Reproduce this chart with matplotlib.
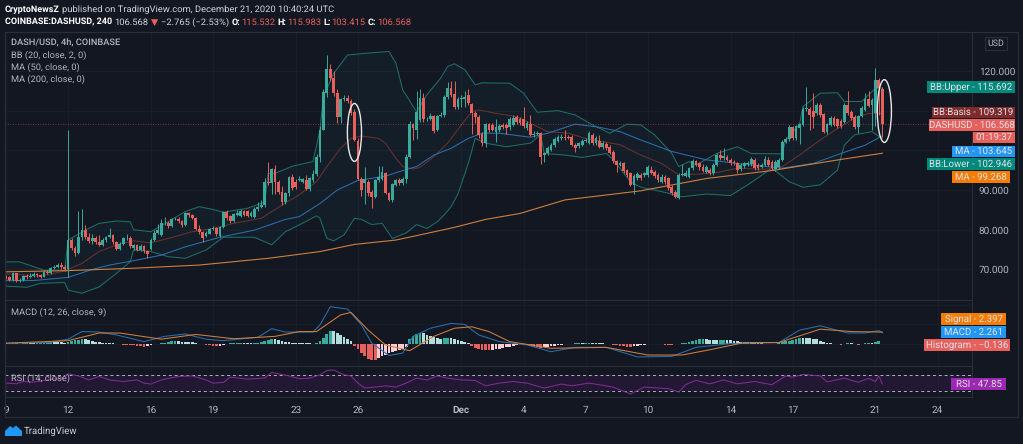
import matplotlib
matplotlib.use('Agg')
import matplotlib.pyplot as plt
import numpy as np
from matplotlib.patches import Ellipse, Rectangle, Polygon

W, H = 1023, 444
BG = '#131722'
GRID = '#1a1e2a'
BORDER = '#2a2e39'
TXT = '#b2b5be'
UP = '#38ab9c'
DOWN = '#e8605c'
plt.rcParams['font.family'] = ['Roboto', 'DejaVu Sans']
plt.rcParams['text.hinting'] = 'no_hinting'

opens = [68.2,68.0,67.3,69.0,67.2,67.4,68.3,68.0,68.4,68.8,
         68.5,68.2,69.4,69.1,70.3,70.6,71.1,70.6,70.0,77.4,
         75.3,74.2,78.1,79.9,78.1,77.1,78.0,77.0,76.2,77.5,
         78.2,78.6,76.8,75.2,76.5,77.8,78.0,75.4,76.1,75.0,
         75.9,74.6,75.1,77.4,79.3,78.7,81.6,81.8,80.9,82.6,
         82.8,82.1,81.2,84.1,83.7,82.9,80.3,79.4,78.5,79.0,
         80.2,80.5,78.4,80.8,84.5,83.5,82.3,83.8,83.5,84.6,
         84.6,83.5,83.3,85.1,85.8,86.3,92.1,91.7,95.2,92.1,
         89.6,87.0,89.2,93.2,92.1,92.5,92.1,92.5,90.2,92.6,
         94.0,98.2,105.1,114.4,120.4,118.2,114.4,108.5,112.9,113.3,
         112.3,109.7,102.4,92.9,91.7,91.9,89.6,88.3,92.4,92.9,
         94.4,89.2,87.5,91.3,92.6,91.7,92.9,98.4,106.6,105.1,
         107.6,113.3,107.8,108.0,108.7,105.1,108.7,108.9,113.5,115.8,
         114.1,111.0,112.8,113.0,114.0,111.7,109.3,108.5,104.1,101.8,
         106.6,106.4,104.7,105.1,106.4,106.4,105.8,106.4,108.5,107.8,
         108.0,105.5,106.6,103.9,104.1,104.3,98.8,99.2,100.1,101.3,
         102.4,103.2,103.3,103.3,103.4,101.4,101.0,101.4,102.3,101.8,
         103.9,101.8,102.4,100.9,101.7,100.9,99.7,97.2,96.4,96.7,
         95.0,94.2,91.3,93.0,93.8,93.8,93.8,95.0,94.6,93.8,
         92.1,93.4,93.0,90.8,89.6,88.0,93.9,93.6,93.4,95.5,
         97.2,96.7,95.9,94.6,95.0,94.2,96.3,98.8,98.0,98.4,
         97.6,97.1,96.7,95.2,96.0,96.5,96.5,97.6,96.3,95.9,
         96.3,97.6,97.1,95.2,95.7,97.6,102.2,102.8,105.8,103.0,
         105.5,106.4,110.3,110.3,110.0,109.3,111.4,109.1,104.7,106.4,
         108.1,107.8,107.5,107.2,111.4,109.7,108.5,105.8,108.7,110.2,
         112.9,111.4,109.3,117.7,115.532]
closes = [68.0,67.3,69.0,67.2,67.4,68.3,68.0,68.4,68.8,68.5,
          68.2,69.4,69.1,70.3,70.6,71.1,70.6,70.0,77.4,75.3,
          74.2,78.1,79.9,78.1,77.1,78.0,77.0,76.2,77.5,78.2,
          78.6,76.8,75.2,76.5,77.8,78.0,75.8,76.1,75.0,75.9,
          74.6,74.0,77.4,79.3,80.0,81.6,81.8,80.9,82.6,82.8,
          82.1,81.2,84.1,83.7,82.9,80.3,79.4,78.0,79.1,80.2,
          80.5,78.9,80.6,84.5,82.9,82.3,84.0,84.3,84.6,83.8,
          83.5,84.3,85.1,85.8,86.3,92.1,91.7,95.2,92.1,89.6,
          87.1,89.2,93.2,90.4,90.7,92.9,92.7,90.2,93.0,94.0,
          98.2,105.1,114.8,120.4,118.2,114.4,108.5,112.9,113.1,112.3,
          109.3,102.6,92.9,90.0,92.9,89.2,88.3,92.4,93.4,94.6,
          89.2,87.5,91.4,92.4,91.7,92.9,98.4,106.6,105.5,109.7,
          113.3,107.8,108.0,108.7,104.9,108.7,108.9,113.5,115.8,114.0,
          111.0,112.9,113.1,113.5,111.9,109.3,108.5,103.9,101.8,106.6,
          105.1,105.2,105.8,106.1,105.8,105.5,107.8,108.1,107.2,107.0,
          106.0,107.0,103.9,104.1,104.3,98.4,99.2,100.5,101.3,102.8,
          103.3,103.4,103.0,103.2,101.4,100.7,101.8,102.4,102.5,104.3,
          101.8,103.0,100.9,101.9,100.7,99.4,97.2,96.3,96.7,94.9,
          93.8,91.3,93.5,94.0,93.0,94.2,95.9,94.4,93.5,92.5,
          93.4,92.1,90.4,89.2,88.3,93.8,94.1,94.2,95.5,97.4,
          96.3,95.7,94.9,95.9,94.2,96.3,98.8,98.0,98.6,97.6,
          96.7,96.7,95.0,96.3,96.7,96.9,97.7,95.5,95.5,96.3,
          97.7,96.3,95.5,97.1,97.6,102.2,102.8,105.8,103.0,106.0,
          106.6,110.3,110.6,108.9,108.5,111.4,108.9,104.7,106.6,108.1,
          106.4,106.0,106.0,111.4,109.3,108.1,105.8,108.7,110.6,112.9,
          111.2,112.7,117.7,115.6,106.568]
highs = [68.6,68.4,69.4,69.2,67.9,68.6,68.9,69.2,69.4,69.1,
         68.9,69.8,69.9,70.6,71.0,71.6,71.9,71.0,105.1,78.0,
         75.8,84.6,85.1,81.3,79.3,79.0,78.4,78.7,78.0,78.5,
         80.5,79.0,77.2,76.9,78.2,78.8,78.4,76.5,76.5,76.3,
         76.2,75.0,77.8,79.9,81.4,82.8,83.2,82.1,83.0,83.3,
         83.1,82.4,84.4,84.5,84.0,83.2,81.2,79.7,79.6,80.5,
         81.0,80.8,81.0,84.8,85.0,83.8,84.3,84.9,85.2,85.0,
         85.0,84.8,85.6,87.0,87.4,93.0,97.0,95.6,96.2,92.5,
         91.0,89.6,93.6,94.0,92.7,93.5,93.0,93.7,93.4,95.0,
         99.0,106.0,115.5,124.0,121.8,120.0,115.5,113.2,114.0,114.0,
         113.0,110.5,103.0,93.4,95.9,92.5,90.0,92.8,96.0,96.0,
         94.6,89.5,91.8,92.8,93.0,93.4,99.0,107.5,107.0,115.0,
         115.5,114.5,108.3,109.5,109.0,109.0,109.7,114.0,117.2,117.5,
         117.5,113.5,114.0,115.0,115.5,112.0,110.0,108.9,104.5,107.0,
         107.0,107.0,108.0,106.6,106.9,107.0,108.5,109.0,109.0,108.3,
         110.8,107.5,109.0,104.8,104.8,104.6,99.7,101.0,101.8,103.3,
         103.9,104.0,105.0,103.8,103.8,101.8,102.2,102.9,103.0,104.8,
         104.3,103.5,103.8,102.3,102.2,101.3,100.0,97.6,97.2,97.1,
         95.4,94.6,94.0,94.5,94.3,94.6,96.3,96.0,95.0,94.2,
         94.0,93.8,93.4,91.2,90.0,94.2,96.5,95.0,95.9,97.9,
         97.6,97.1,96.5,96.3,95.5,96.7,99.3,100.0,100.5,98.8,
         98.0,97.6,97.0,96.7,97.1,97.3,98.2,98.0,96.7,96.8,
         98.6,98.4,97.6,97.6,98.0,102.7,103.3,106.3,106.2,106.4,
         107.0,110.8,116.0,110.8,114.5,111.9,111.9,109.5,107.0,108.6,
         108.6,108.2,107.9,111.9,115.0,110.2,109.0,109.0,111.1,114.5,
         115.0,113.2,120.7,118.1,115.983]
lows = [67.5,67.0,67.0,66.9,66.8,67.2,67.7,67.8,68.2,68.1,
        67.9,68.0,68.8,68.9,70.0,70.3,70.2,69.7,68.0,75.0,
        73.5,73.9,77.5,77.6,76.7,76.5,76.4,75.8,76.0,77.0,
        77.9,76.3,74.8,74.9,76.1,77.4,75.4,75.0,74.7,74.6,
        74.2,73.0,74.8,77.1,79.0,78.4,81.3,80.5,80.6,82.4,
        81.8,80.6,80.9,83.2,82.6,80.0,79.0,77.0,78.2,78.8,
        79.9,78.5,78.1,80.4,82.4,81.7,82.0,83.5,83.1,83.4,
        83.2,83.2,83.0,84.8,85.5,85.8,91.3,88.9,89.1,88.9,
        86.2,86.5,88.6,90.0,90.3,92.2,91.8,89.9,89.8,92.0,
        93.5,97.0,105.0,113.5,117.5,113.8,107.0,107.0,112.5,111.8,
        109.0,102.3,92.6,88.5,86.5,88.5,85.5,88.0,92.0,92.5,
        88.9,87.2,87.0,91.0,91.3,91.3,91.8,98.0,102.5,102.8,
        107.2,107.2,107.5,107.6,104.4,104.8,108.3,108.5,113.0,113.5,
        110.5,110.5,110.8,111.0,111.5,104.0,107.0,103.0,101.0,100.8,
        104.6,104.8,102.0,104.7,105.4,104.0,105.2,106.0,106.7,106.5,
        105.5,105.0,103.5,103.4,103.8,96.6,97.0,98.8,99.8,100.8,
        102.0,102.5,102.6,102.8,101.0,99.5,100.7,101.1,102.0,101.5,
        101.4,101.4,100.5,100.4,100.2,99.0,96.8,94.5,96.0,94.3,
        93.2,90.9,89.0,92.6,92.6,93.4,93.4,94.0,93.0,92.0,
        91.8,91.6,90.0,88.8,88.0,87.7,93.5,93.2,93.1,95.1,
        96.0,95.0,94.5,94.2,93.8,93.8,96.0,97.6,97.6,97.2,
        96.3,96.3,94.2,94.8,95.6,96.1,96.1,95.0,95.1,95.5,
        96.0,96.0,95.0,94.8,95.3,97.2,101.8,102.4,102.6,102.6,
        101.6,106.0,110.0,105.0,105.5,108.9,108.5,104.3,104.0,106.0,
        106.0,105.6,105.6,106.8,108.9,107.7,105.4,104.3,108.3,109.9,
        110.8,105.0,106.0,109.0,103.415]

# line vertices (candle index, value)
bb_up_x = [0,4,8,11,17,18,23,27,32,36,37,42,47,52,56,60,63,70,75,76,78,83,89,91,92,95,99,105,111,113,115,119,122,126,128,130,133,136,138,146,150,154,160,165,170,175,180,184,188,193,195,198,200,206,212,216,225,226,230,231,236,241,243,248,252,254]
bb_up = [71.9,71.9,70.7,69.8,69.8,77.4,79.9,81.6,82.2,82.0,80.0,79.5,82.0,84.6,85.8,85.1,84.4,85.4,87.0,94.2,94.2,96.0,97.2,105.1,113.5,119.4,124.0,124.5,124.9,122.0,115.2,109.7,114.0,118.2,121.1,121.8,120.3,116.5,117.0,116.9,114.4,109.6,110.0,108.9,106.4,104.3,106.6,106.4,103.9,99.2,95.9,97.2,96.3,99.2,100.9,99.2,99.1,102.6,106.6,111.0,114.4,114.5,112.3,112.3,115.6,115.692]
bb_lo_x = [0,6,10,17,18,22,27,32,36,37,42,47,52,58,63,72,77,81,85,90,91,93,95,98,101,103,106,109,112,116,119,122,125,127,129,131,134,136,139,145,152,155,156,162,167,174,176,181,184,190,196,203,210,215,222,227,231,236,241,243,246,251,254]
bb_lo = [65.8,65.5,66.5,66.7,64.8,64.0,65.6,69.0,71.9,74.9,74.5,73.2,72.8,74.9,78.1,78.1,76.2,79.5,81.2,83.5,82.9,77.8,77.2,78.7,82.9,82.6,81.3,81.6,77.8,79.2,81.3,80.3,82.0,83.7,85.8,89.0,96.7,103.0,101.8,100.9,101.8,103.9,99.2,98.8,98.2,99.2,97.6,92.1,90.7,89.6,88.3,89.0,88.6,91.3,95.5,92.1,90.7,91.3,95.0,101.3,103.9,104.7,102.946]
bb_mid_x = [0,10,17,18,22,27,32,37,42,47,54,60,66,74,80,85,90,93,97,100,103,108,110,113,115,118,120,124,128,132,135,137,142,148,153,157,163,168,173,178,184,190,195,205,212,220,225,230,236,241,246,250,254]
bb_mid = [68.9,68.3,69.6,70.0,71.5,74.5,76.2,77.2,76.7,77.8,79.5,80.3,81.6,82.9,86.2,88.8,92.1,95.9,100.5,103.0,103.6,103.0,101.8,98.0,95.9,95.3,95.7,98.4,101.8,106.4,109.7,110.2,109.3,108.5,106.4,104.7,104.3,103.0,102.2,101.4,98.8,96.7,93.8,94.2,95.5,95.2,95.9,98.8,102.6,105.5,108.1,109.3,109.319]
ma50_x = [0,8,18,25,30,37,45,52,62,72,81,85,91,96,102,110,115,119,124,129,134,138,143,152,157,165,172,178,184,193,203,213,225,234,242,249,254]
ma50 = [67.2,67.2,68.0,70.0,71.1,72.2,73.6,75.7,78.1,79.9,82.6,83.3,86.6,90.0,92.4,93.5,94.9,95.9,98.8,100.5,103.0,104.3,104.3,103.3,104.3,106.6,105.8,104.7,102.6,99.7,97.6,96.6,95.5,96.7,99.2,101.3,103.645]
ma200_x = [0,18,37,56,76,91,101,113,120,130,139,149,162,184,203,222,242,254]
ma200 = [69.4,69.7,70.3,71.1,72.8,74.5,76.3,77.4,78.7,80.6,82.6,84.1,87.5,89.8,92.9,94.9,97.7,99.268]

macd_x = [0,12,18,22,27,32,40,46,52,58,63,73,77,81,89,91,94,99,103,106,111,115,118,123,129,133,137,143,151,158,165,174,183,193,200,210,224,230,236,244,249,253,254]
macd = [0.07,0.2,0.9,2.5,2.4,1.8,0.4,1.5,2.0,0.9,0.6,1.3,3.1,2.4,2.4,3.9,7.7,7.2,3.9,0.1,-2.5,-2.0,1.5,3.2,4.2,4.0,1.8,0.4,-0.3,-1.7,-0.8,-0.8,-2.8,-2.7,-0.8,0.0,0.2,2.8,3.7,2.2,2.2,2.7,2.261]
signal_x = [0,18,27,33,45,55,66,78,85,90,97,100,105,110,117,124,130,135,140,146,158,174,186,196,204,214,224,236,245,254]
signal = [0.07,0.6,2.2,2.2,0.9,1.9,1.0,1.5,2.5,2.5,6.0,6.5,2.8,-0.3,-1.5,1.5,3.2,3.5,2.5,0.4,-1.0,-0.8,-2.4,-2.4,-1.3,0.2,0.2,3.0,2.5,2.397]
hist = [.05,-.05,.03,.05,-.02,.03,.05,.03,.02,.05,
        .08,.12,.2,.25,.25,.25,.25,.2,.3,.5,
        .7,.8,.9,.85,.7,.55,.4,.3,.2,.15,
        .1,.1,-.1,-.2,-.25,-.3,-.35,-.4,-.45,-.55,
        -.65,-.6,-.4,-.2,-.1,.05,.2,.35,.5,.6,
        .55,.4,.35,.3,.25,.1,-.1,-.2,-.3,-.35,
        -.45,-.5,-.45,-.3,-.1,.03,.05,.1,.12,.12,
        .1,.1,.15,.2,.4,.6,.8,1.0,.95,.8,
        .5,.3,.25,.2,.15,.15,.12,.1,.05,-.1,
        .1,.6,1.2,2.0,2.7,2.7,2.2,1.7,1.3,1.0,
        .5,-.6,-1.2,-1.9,-2.7,-3.2,-3.4,-3.4,-3.0,-2.6,
        -2.3,-2.0,-1.8,-1.6,-1.4,-1.1,-.7,.9,1.5,2.0,
        2.2,2.1,1.8,1.5,1.3,1.1,1.0,1.1,1.2,1.1,
        .9,.7,.6,.4,.2,-.5,-.9,-1.2,-1.4,-1.4,
        -1.4,-1.3,-1.2,-1.1,-1,-.8,-.7,-.6,-.4,-.2,
        -.1,-.3,-.6,-.7,-.8,-.9,-.8,-.7,-.6,-.5,
        -.4,-.3,-.15,-.1,-.05,.03,.05,.03,.1,.15,
        .15,.1,.1,.05,-.1,-.2,-.3,-.4,-.5,-.6,
        -.7,-.8,-.6,-.5,-.4,-.3,-.2,-.1,-.1,-.15,
        -.2,-.25,-.3,-.3,-.2,-.1,.1,.2,.35,.5,
        .7,.9,1.0,.9,.8,.7,.65,.7,.8,.8,
        .7,.6,.5,.4,.3,.25,.2,.1,.1,.1,
        -.05,-.1,-.15,-.1,.05,.3,.5,.6,.8,1,
        1.2,1.2,1.2,1.1,1,.9,.6,.4,.05,.02,
        -.1,-.2,-.3,-.2,.05,.03,-.2,-.4,-.2,.05,
        .1,.05,.4,.5,-.136]

rsi_x = [0,3,5,8,12,16,18,21,24,27,30,34,38,40,42,45,50,54,58,60,63,65,70,75,77,79,82,85,88,91,93,95,98,100,102,104,107,110,113,116,119,122,125,128,132,136,139,143,147,151,156,161,164,169,176,181,185,192,195,197,200,204,208,212,217,222,226,228,231,236,238,243,247,250,252,253,254]
rsi = [50,48.3,54,52.5,58,61.7,73.3,68,58,66.7,58,54,58,50,47.5,58,66.7,68,58,50,51.7,65,60,62.5,76.7,73.3,68,61,62.5,70.8,81.7,83,70.8,68,50,37.5,40,43,40,50,62.5,58,68,62.5,58,56.7,43,50,54,50,37.5,47.5,43.3,50,40,22.5,40,36,27.5,46,57,48,58,48,54,46,68,65,72,68,53,62.5,52,62,54,68,47.85]

price_ticks = [70, 80, 90, 100, 110, 120]
price_labels = ['70.000', '80.000', '90.000', '', '', '120.000']
day_ticks = [0, 18, 42, 60, 84, 102, 132, 150, 168, 186, 210, 228, 252, 270]
day_labels = ['9', '12', '16', '19', '23', '26', 'Dec', '4', '7', '10', '14', '17', '21', '24']


def fx(px):
    return px / W


def fy(py):
    return 1 - py / H


def make_pane(top, bottom):
    ax = fig.add_axes([fx(5), fy(bottom), (972 - 5) / W, (bottom - top) / H])
    ax.set_facecolor(BG)
    ax.set_xlim(-0.29, 280)
    ax.set_xticks(day_ticks)
    ax.tick_params(length=0, labelbottom=False, labelleft=False)
    ax.grid(color=GRID, lw=0.7)
    ax.set_axisbelow(True)
    for s in ax.spines.values():
        s.set_color(BORDER)
        s.set_linewidth(0.8)
    return ax


def value_box(x0, x1, y0, y1, label, color):
    fig.add_artist(Rectangle((fx(x0), fy(y1)), (x1 - x0) / W, (y1 - y0) / H,
                             transform=fig.transFigure, fc=color, ec='none', zorder=5))
    fig.text(fx((x0 + x1) / 2), fy((y0 + y1) / 2), label, color='#dfe1e8', fontsize=6.9,
             ha='center', va='center', zorder=6)


def text_row(x, y, parts):
    rend = fig.canvas.get_renderer()
    for s, color, weight in parts:
        size = 6.5 if weight == 'bold' else 6.75
        t = fig.text(fx(x), fy(y), s, color=color, fontsize=size, fontweight=weight, va='center')
        x = t.get_window_extent(rend).x1 + (0.5 if s.endswith(':') else 2.5)


fig = plt.figure(figsize=(W / 100, H / 100), dpi=100, facecolor=BG)
x = np.arange(len(closes))
o, c = np.array(opens), np.array(closes)
colors = [UP if b >= a else DOWN for a, b in zip(opens, closes)]

# price pane
ax = make_pane(32, 300)
ax.set_yticks(price_ticks)
ax.set_ylim(62.3, 129.8)
ax.fill(bb_up_x + bb_lo_x[::-1], bb_up + bb_lo[::-1], color=UP, alpha=0.05, lw=0)
ax.plot(bb_up_x, bb_up, color='#1d6f68', lw=0.75)
ax.plot(bb_lo_x, bb_lo, color='#1d6f68', lw=0.75)
ax.plot(bb_mid_x, bb_mid, color='#6b302f', lw=0.75)
ax.plot(ma50_x, ma50, color='#2a6fae', lw=0.75)
ax.plot(ma200_x, ma200, color='#cf7f3e', lw=0.8)
ax.vlines(x, lows, highs, colors=colors, lw=0.7, zorder=3)
ax.bar(x, np.abs(c - o), bottom=np.minimum(o, c), width=0.8, color=colors, zorder=4, lw=0)
ax.axhline(closes[-1], color=DOWN, lw=0.6, ls=(0, (1, 2)), alpha=0.6)
ax.add_patch(Ellipse((101, 104.5), 4.1, 14.6, fc='none', ec='#e8e8e8', lw=1, zorder=6))
ax.add_patch(Ellipse((254.6, 109.9), 4.1, 15.8, fc='none', ec='#e8e8e8', lw=1, zorder=6))
ax.yaxis.tick_right()
ax.tick_params(axis='y', labelright=True, labelcolor=TXT, labelsize=7.2, pad=5)
ax.set_yticklabels(price_labels)

# MACD pane
ax2 = make_pane(300, 366)
ax2.set_yticks([-4, 0, 4, 8])
ax2.set_ylim(-4.7, 9.1)
hist_colors = []
for i, v in enumerate(hist):
    growing = i > 0 and v > hist[i - 1]
    if v >= 0:
        hist_colors.append(UP if growing else '#b2dfdb')
    else:
        hist_colors.append('#ffcdd2' if growing else DOWN)
ax2.bar(x, hist, width=0.8, color=hist_colors, zorder=3, lw=0)
ax2.plot(macd_x, macd, color='#2a6fae', lw=0.75, zorder=4)
ax2.plot(signal_x, signal, color='#cf7f3e', lw=0.75, zorder=4)

# RSI pane
ax3 = make_pane(366, 397)
ax3.set_ylim(15, 93)
ax3.set_yticks([])
ax3.axhspan(30, 70, color='#9c27b0', alpha=0.12, lw=0)
ax3.axhline(70, color='#b9aec4', lw=0.7, ls=(0, (3, 3)))
ax3.axhline(30, color='#b9aec4', lw=0.7, ls=(0, (3, 3)))
ax3.plot(rsi_x, rsi, color='#7e2d94', lw=0.75)
ax3.set_xticks(day_ticks)
ax3.set_xticklabels(day_labels)
ax3.tick_params(axis='x', labelbottom=True, labelcolor=TXT, labelsize=7.2, pad=6)
ax3.get_xticklabels()[6].set_fontweight('bold')

# outer frame of the chart and time axis
fig.add_artist(Rectangle((fx(5), fy(417)), 1013 / W, 385 / H, transform=fig.transFigure,
                         fc='none', ec=BORDER, lw=0.8))

# pane legends
legend_rows = [(43, 'DASH/USD, 4h, COINBASE', 'medium'), (55, 'BB (20, close, 2, 0)', 'normal'),
               (67, 'MA (50, close, 0)', 'normal'), (79, 'MA (200, close, 0)', 'normal'),
               (312, 'MACD (12, 26, close, 9)', 'normal'), (378, 'RSI (14, close)', 'normal')]
for py, s, weight in legend_rows:
    fig.text(fx(11), fy(py), s, color=TXT, fontsize=6.7, fontweight=weight, va='center')

# header
fig.canvas.draw()
text_row(5, 9.5, [('CryptoNewsZ', 'white', 'bold'),
                  ('published on TradingView.com, December 21, 2020 10:40:24 UTC', '#d1d4dc', 'normal')])
text_row(5, 22, [('COINBASE:DASHUSD, 240', 'white', 'bold'), ('106.568', '#d1d4dc', 'normal'),
                 ('▼', DOWN, 'normal'), ('−2.765 (−2.53%)', '#d1d4dc', 'normal'),
                 ('O:', 'white', 'bold'), ('115.532', DOWN, 'normal'),
                 ('H:', 'white', 'bold'), ('115.983', DOWN, 'normal'),
                 ('L:', 'white', 'bold'), ('103.415', DOWN, 'normal'),
                 ('C:', 'white', 'bold'), ('106.568', DOWN, 'normal')])

# USD button
fig.add_artist(Rectangle((fx(985), fy(50)), 22 / W, 13 / H, transform=fig.transFigure,
                         fc=BG, ec=BORDER, lw=0.8))
fig.text(fx(996), fy(43.5), 'USD', color=TXT, fontsize=6.4, ha='center', va='center')

# value labels on the right
value_box(927, 1015, 81, 93, 'BB:Upper - 115.692', '#00897b')
value_box(932, 1015, 107, 118, 'BB:Basis - 109.319', '#7f2b2b')
value_box(929, 1015, 119.5, 131, 'DASHUSD - 106.568', DOWN)
value_box(973, 1015, 132, 143, '01:19:37', DOWN)
value_box(952, 1015, 146, 157, 'MA - 103.645', '#2196f3')
value_box(927, 1015, 158.5, 170, 'BB:Lower - 102.946', '#00897b')
value_box(952, 1010, 171.5, 183, 'MA - 99.268', '#f57c00')
value_box(941, 1006, 313, 325, 'Signal - 2.397', '#f57c00')
value_box(941, 1006, 326, 338, 'MACD - 2.261', '#2196f3')
value_box(924, 1010, 339, 351, 'Histogram - −0.136', DOWN)
value_box(951, 1006, 378, 390, 'RSI - 47.85', '#9c27b0')

# logo
cloud = [(5, 436), (5, 431), (10, 426), (13, 428), (16, 425.5), (22, 431), (22, 436)]
fig.add_artist(Polygon([(fx(a), fy(b)) for a, b in cloud], transform=fig.transFigure,
                       fc='#2196f3', ec='none'))
fig.text(fx(24), fy(431), 'TradingView', color='#c8cbd3', fontsize=6.9, va='center')

fig.savefig('out.png', dpi=100, facecolor=BG)
